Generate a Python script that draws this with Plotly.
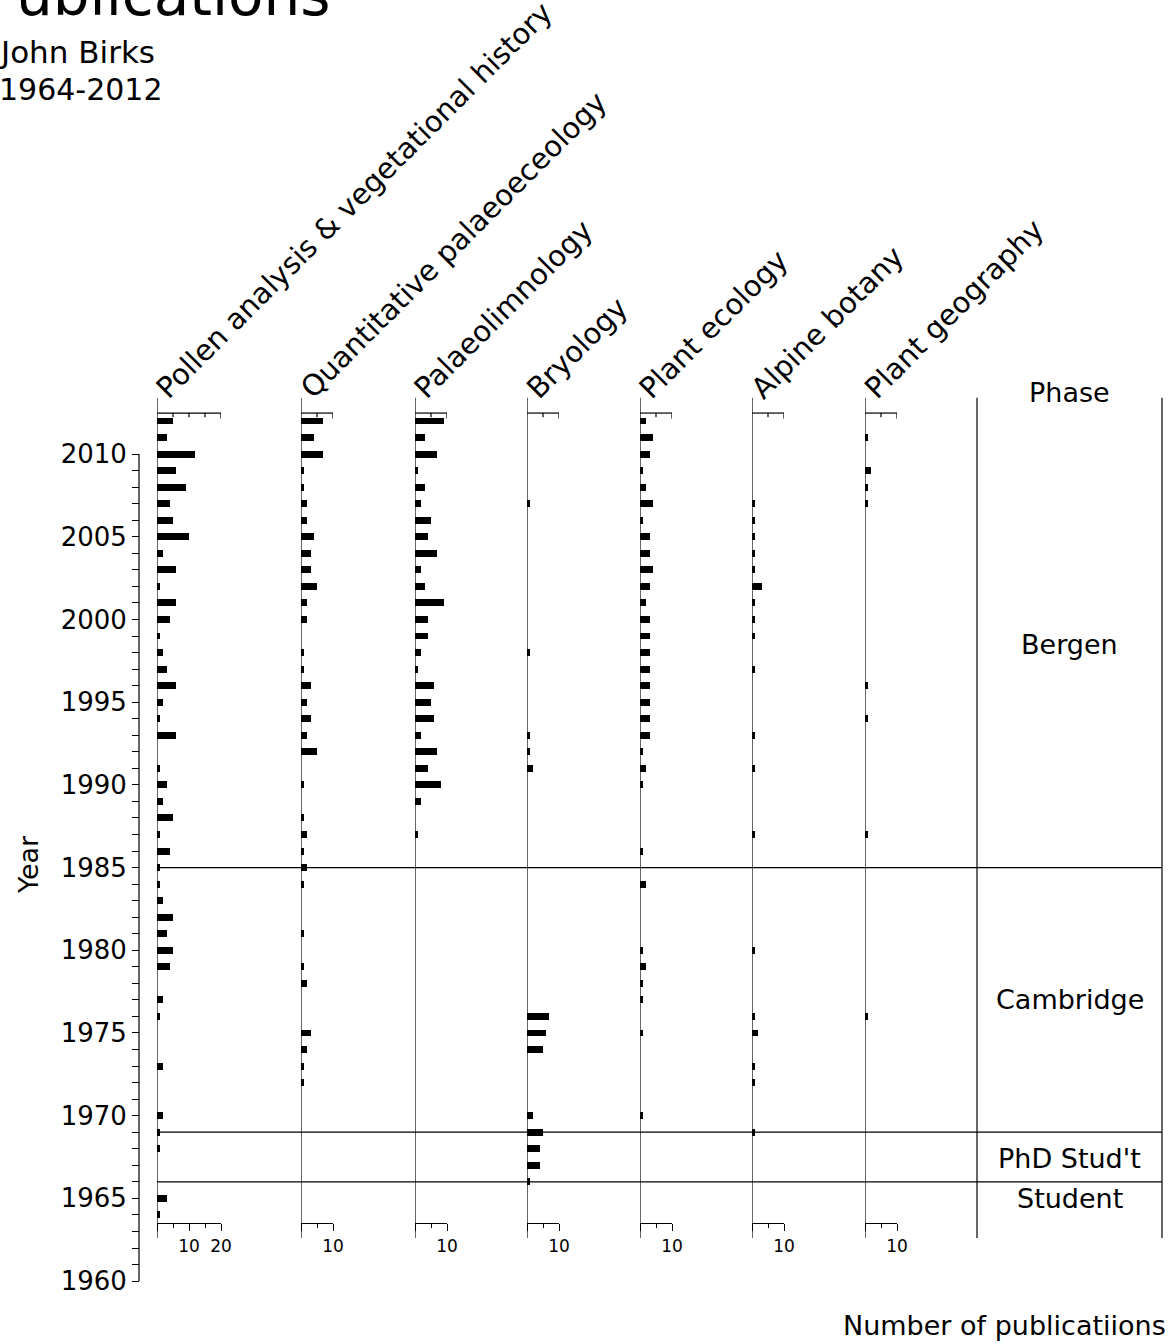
import plotly.graph_objects as go

W, H = 1172, 1344

# ---------------- data ----------------
years = list(range(1964, 2013))

categories = [
    "Pollen analysis & vegetational history",
    "Quantitative palaeoeceology",
    "Palaeolimnology",
    "Bryology",
    "Plant ecology",
    "Alpine botany",
    "Plant geography",
]

#          1964 ..................................................... 2012
pollen = [1, 3, 0, 0, 1, 1, 2, 0, 0, 2, 0, 0, 1, 2, 0, 4, 5, 3, 5, 2, 1, 1, 4, 1, 5,
          2, 3, 1, 0, 6, 1, 2, 6, 3, 2, 1, 4, 6, 1, 6, 2, 10, 5, 4, 9, 6, 12, 3, 5]
quant = [0, 0, 0, 0, 0, 0, 0, 0, 1, 1, 2, 3, 0, 0, 2, 1, 0, 1, 0, 0, 1, 2, 1, 2, 1,
         0, 1, 0, 5, 2, 3, 2, 3, 1, 1, 0, 2, 2, 5, 3, 3, 4, 2, 2, 1, 1, 7, 4, 7]
palaeolim = [0, 0, 0, 0, 0, 0, 0, 0, 0, 0, 0, 0, 0, 0, 0, 0, 0, 0, 0, 0, 0, 0, 0, 1, 0,
             2, 8, 4, 7, 2, 6, 5, 6, 1, 2, 4, 4, 9, 3, 2, 7, 4, 5, 2, 3, 1, 7, 3, 9]
bryology = [0, 0, 1, 4, 4, 5, 2, 0, 0, 0, 5, 6, 7, 0, 0, 0, 0, 0, 0, 0, 0, 0, 0, 0, 0,
            0, 0, 2, 1, 1, 0, 0, 0, 0, 1, 0, 0, 0, 0, 0, 0, 0, 0, 1, 0, 0, 0, 0, 0]
plant_ecology = [0, 0, 0, 0, 0, 0, 1, 0, 0, 0, 0, 1, 0, 1, 1, 2, 1, 0, 0, 0, 2, 0, 1, 0, 0,
                 0, 1, 2, 1, 3, 3, 3, 3, 3, 3, 3, 3, 2, 3, 4, 3, 3, 1, 4, 2, 1, 3, 4, 2]
alpine = [0, 0, 0, 0, 0, 1, 0, 0, 1, 1, 0, 2, 1, 0, 0, 0, 1, 0, 0, 0, 0, 0, 0, 1, 0,
          0, 0, 1, 0, 1, 0, 0, 0, 1, 0, 1, 1, 1, 3, 1, 1, 1, 1, 1, 0, 0, 0, 0, 0]
plant_geography = [0, 0, 0, 0, 0, 0, 0, 0, 0, 0, 0, 0, 1, 0, 0, 0, 0, 0, 0, 0, 0, 0, 0, 1, 0,
                   0, 0, 0, 0, 0, 1, 0, 1, 0, 0, 0, 0, 0, 0, 0, 0, 0, 0, 1, 1, 2, 0, 1, 0]

series = [pollen, quant, palaeolim, bryology, plant_ecology, alpine, plant_geography]
scale_max = [20, 10, 10, 10, 10, 10, 10]

year_ticks = list(range(1960, 2011))
phase_names = ["Bergen", "Cambridge", "PhD Stud't", "Student"]
phase_label_years = [1998.5, 1977.0, 1967.4, 1965.0]
phase_boundaries = [1985, 1969, 1966]

# ---------------- layout geometry ----------------
FONT = "DejaVu Sans"
baselines_px = [157, 301, 415, 527, 640, 752, 865]
PX_PER_UNIT = 3.2
PX_PER_YEAR = 16.54
Y2012_PX = 421
y_top = 2012 + Y2012_PX / PX_PER_YEAR
y_bot = 2012 - (H - Y2012_PX) / PX_PER_YEAR
panel_top_year = 2013.4
panel_bot_year = 1962.6
top_scale_year = 2012.48
bottom_scale_py = 1223
phase_left_px, phase_right_px = 977, 1162
yaxis_px = 139


def px(xp):
    return xp / W


def py(yp):
    return 1 - yp / H


fig = go.Figure()
layout = {}
shapes = []
annotations = []
line_style = dict(color="black", width=1.2)

for i, (vals, b, smax, name) in enumerate(zip(series, baselines_px, scale_max, categories)):
    suffix = "" if i == 0 else str(i + 1)
    xs = [v for v in vals if v > 0]
    ys = [y for y, v in zip(years, vals) if v > 0]
    fig.add_trace(go.Bar(
        x=xs, y=ys, orientation="h", xaxis="x" + suffix, yaxis="y",
        marker=dict(color="black", line=dict(width=0)), width=0.42,
        showlegend=False, name=name,
    ))
    major = list(range(0, smax + 1, 10))
    minor = list(range(5, smax, 10))
    layout["xaxis" + suffix] = dict(
        domain=[px(b), px(b + smax * PX_PER_UNIT)], range=[0, smax],
        anchor="free", position=py(bottom_scale_py),
        showline=True, linecolor="black", linewidth=1.2,
        ticks="outside", ticklen=7, tickwidth=1.2, tickcolor="black",
        tickmode="array", tickvals=major,
        ticktext=["" if v == 0 else str(v) for v in major],
        minor=dict(tickmode="array", tickvals=minor, ticks="outside",
                   ticklen=4, tickcolor="black", tickwidth=1.2),
        showgrid=False, zeroline=False, fixedrange=True,
        tickfont=dict(family=FONT, size=17, color="black"),
    )
    xr = "x" + suffix
    # panel baseline
    shapes.append(dict(type="line", xref=xr, yref="y", x0=0, x1=0,
                       y0=panel_bot_year, y1=panel_top_year, line=line_style))
    # top scale
    shapes.append(dict(type="line", xref=xr, yref="y", x0=0, x1=smax,
                       y0=top_scale_year, y1=top_scale_year, line=line_style))
    for t in range(5, smax + 1, 5):
        shapes.append(dict(type="line", xref=xr, yref="y", x0=t, x1=t,
                           y0=top_scale_year, y1=top_scale_year - (0.35 if t == smax else 0.25),
                           line=line_style))
    # rotated category title
    annotations.append(dict(
        text=name, xref="paper", yref="paper", x=px(b - 10), y=py(408),
        xanchor="left", yanchor="bottom", textangle=-45, showarrow=False,
        font=dict(family=FONT, size=29, color="black"),
    ))

# Year axis line
shapes.append(dict(type="line", xref="paper", yref="y", x0=px(yaxis_px), x1=px(yaxis_px),
                   y0=1960, y1=2010, line=line_style))
# phase column
for xp in (phase_left_px, phase_right_px):
    shapes.append(dict(type="line", xref="paper", yref="y", x0=px(xp), x1=px(xp),
                       y0=panel_bot_year, y1=panel_top_year, line=line_style))
for yb in phase_boundaries:
    shapes.append(dict(type="line", xref="paper", yref="y", x0=px(baselines_px[0]),
                       x1=px(phase_right_px), y0=yb, y1=yb, line=line_style))

phase_cx = px((phase_left_px + phase_right_px) / 2)
annotations.append(dict(text="Phase", xref="paper", yref="paper", x=phase_cx, y=py(392),
                        xanchor="center", yanchor="middle", showarrow=False,
                        font=dict(family=FONT, size=27, color="black")))
for nm, yy in zip(phase_names, phase_label_years):
    annotations.append(dict(text=nm, xref="paper", yref="y", x=phase_cx, y=yy,
                            xanchor="center", yanchor="middle", showarrow=False,
                            font=dict(family=FONT, size=27, color="black")))

# titles and axis labels
annotations += [
    dict(text="Publications", xref="paper", yref="paper", x=px(-20), y=py(31),
         xanchor="left", yanchor="bottom", showarrow=False,
         font=dict(family=FONT, size=58, color="black")),
    dict(text="John Birks", xref="paper", yref="paper", x=px(-3), y=py(52),
         xanchor="left", yanchor="middle", showarrow=False,
         font=dict(family=FONT, size=31, color="black")),
    dict(text="1964-2012", xref="paper", yref="paper", x=px(-3), y=py(89),
         xanchor="left", yanchor="middle", showarrow=False,
         font=dict(family=FONT, size=30, color="black")),
    dict(text="Year", xref="paper", yref="paper", x=px(28), y=py(865),
         xanchor="center", yanchor="middle", textangle=-90, showarrow=False,
         font=dict(family=FONT, size=27, color="black")),
    dict(text="Number of publicatiions", xref="paper", yref="paper", x=px(1168), y=py(1325),
         xanchor="right", yanchor="middle", showarrow=False,
         font=dict(family=FONT, size=27, color="black")),
]

layout["yaxis"] = dict(
    domain=[0, 1], range=[y_bot, y_top], anchor="free", position=px(yaxis_px),
    tickmode="array", tickvals=year_ticks,
    ticktext=[str(y) if y % 5 == 0 else "" for y in year_ticks],
    ticks="outside", ticklen=7, tickwidth=1.2, tickcolor="black",
    showline=False, showgrid=False, zeroline=False, fixedrange=True,
    tickfont=dict(family=FONT, size=26, color="black"),
)

fig.update_layout(
    width=W, height=H, template="none",
    margin=dict(l=0, r=0, t=0, b=0, autoexpand=False),
    paper_bgcolor="white", plot_bgcolor="rgba(0,0,0,0)",
    barmode="overlay", bargap=0,
    font=dict(family=FONT, color="black"),
    shapes=shapes, annotations=annotations, showlegend=False,
    **layout,
)

fig.write_html("out.html",
               config={"displayModeBar": False},
               post_script="document.body.style.margin='0';document.body.style.overflow='hidden';")
